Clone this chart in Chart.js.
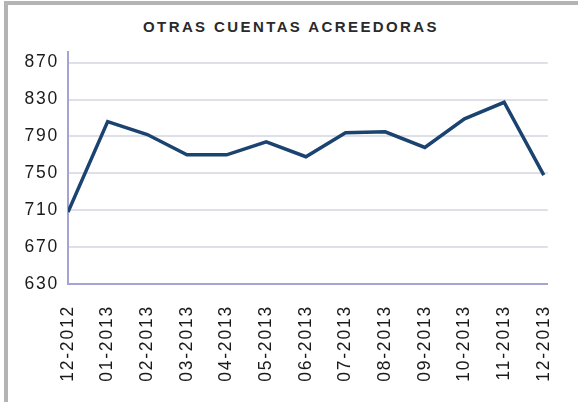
<!DOCTYPE html>
<html lang="es">
<head>
  <meta charset="UTF-8">
  <title>Otras cuentas acreedoras</title>
  <script src="https://cdn.jsdelivr.net/npm/chart.js@4.4.2/dist/chart.umd.min.js"></script>
  <style>
    body {
      margin: 0;
      background: #fff;
      font-family: 'Liberation Sans', Arial, sans-serif;
    }
    .frame {
      position: relative;
      width: 578px;
      height: 402px;
      overflow: hidden;
    }
    .border-box {
      position: absolute;
      left: 4px;
      top: 1px;
      width: 580px;
      height: 410px;
      border: 4px solid #b4b4b4;
      box-sizing: border-box;
    }
    .title {
      position: absolute;
      left: 0;
      width: 582px;
      top: 18px;
      text-align: center;
      font-size: 15px;
      font-weight: bold;
      letter-spacing: 2.4px;
      color: #2a2a2a;
    }
    canvas {
      position: absolute;
      left: 0;
      top: 0;
    }
  </style>
</head>
<body>
  <div class="frame">
    <div class="border-box"></div>
    <div class="title">OTRAS CUENTAS ACREEDORAS</div>
    <canvas id="chart" width="578" height="402"></canvas>
  </div>

  <script>
    const months = ['12-2012', '01-2013', '02-2013', '03-2013', '04-2013', '05-2013', '06-2013',
                    '07-2013', '08-2013', '09-2013', '10-2013', '11-2013', '12-2013'];
    const values = [708, 806, 792, 770, 770, 784, 768, 794, 795, 778, 809, 827, 748];
    const yTicks = [630, 670, 710, 750, 790, 830, 870];

    // wide lettering like the original picture
    const spacing = {
      id: 'spacing',
      beforeLayout(chart) { chart.ctx.letterSpacing = '1.8px'; },
      beforeDraw(chart) { chart.ctx.letterSpacing = '1.8px'; }
    };

    new Chart(document.getElementById('chart'), {
      type: 'line',
      data: {
        datasets: [{
          label: 'Otras cuentas acreedoras',
          data: values.map((v, i) => ({ x: i, y: v })),
          borderColor: '#1b436f',
          borderWidth: 3.5,
          borderJoinStyle: 'miter',
          pointRadius: 0,
          tension: 0,
          fill: false
        }]
      },
      options: {
        responsive: false,
        animation: false,
        layout: { padding: { left: 0, top: 52, right: 26, bottom: 0 } },
        plugins: {
          legend: { display: false },
          tooltip: { enabled: false }
        },
        scales: {
          x: {
            type: 'linear',
            min: 0,
            max: 12.1,
            afterBuildTicks: s => { s.ticks = months.map((m, i) => ({ value: i })); },
            afterFit: s => { s.height = 118; },
            grid: { display: false },
            border: { display: true, color: '#a4a4d2', width: 2 },
            ticks: {
              autoSkip: false,
              minRotation: 90,
              maxRotation: 90,
              padding: 13,
              color: '#1a1a1a',
              font: { family: "'Liberation Sans', Arial, sans-serif", size: 17.5 },
              callback: v => months[v]
            }
          },
          y: {
            min: 630,
            max: 881.5,
            afterBuildTicks: s => { s.ticks = yTicks.map(v => ({ value: v })); },
            afterFit: s => { s.width = 68; },
            grid: { color: '#dfdfea', lineWidth: 2, drawTicks: false },
            border: { display: true, color: '#a4a4d2', width: 2 },
            ticks: {
              padding: 9,
              color: '#1a1a1a',
              font: { family: "'Liberation Sans', Arial, sans-serif", size: 17.5 }
            }
          }
        }
      },
      plugins: [spacing]
    });
  </script>
</body>
</html>
